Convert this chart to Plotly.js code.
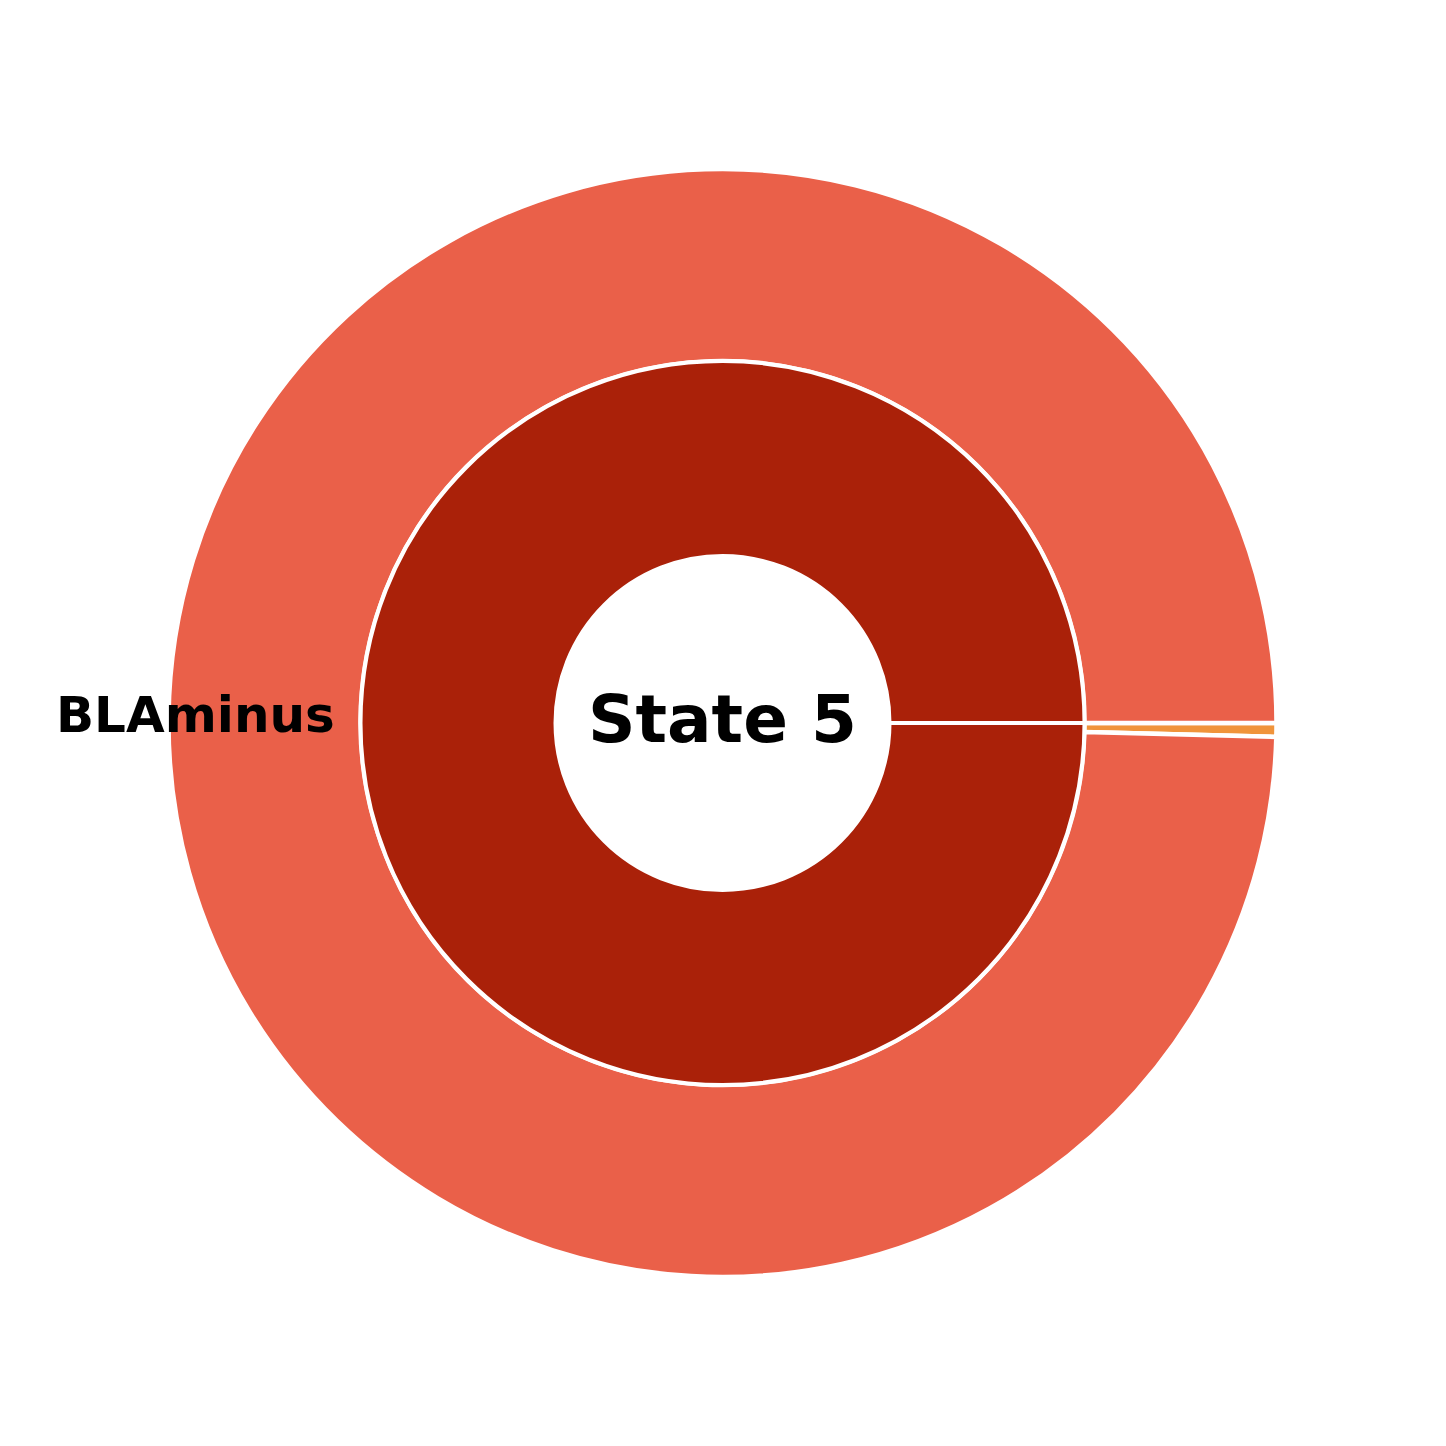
<!DOCTYPE html>
<html>
<head>
<meta charset="utf-8">
<script src="https://cdn.plot.ly/plotly-3.0.1.min.js"></script>
<style>html,body{margin:0;padding:0;background:#fff;}</style>
</head>
<body>
<div id="chart" style="width:1446px;height:1446px;"></div>
<script>
// Data
const innerLabels = ["State 5"];
const innerValues = [250];
const innerColors = ["#AA2109"];
const outerLabels = ["Other", "BLAminus"];
const outerValues = [1, 249];
const outerColors = ["#F0943B", "#EA6049"];
const centerText = "State 5";
const sideLabel = "BLAminus";

// Geometry (pixels)
const W = 1446, H = 1446;
const cx = 722.5, cy = 723;
const rOuter = 554, rMid = 362, rHole = 167;

function dom(r) {
  return { x: [(cx - r) / W, (cx + r) / W], y: [1 - (cy + r) / H, 1 - (cy - r) / H] };
}

const traces = [
  {
    type: "pie",
    labels: outerLabels,
    values: outerValues,
    marker: { colors: outerColors, line: { color: "#ffffff", width: 4.5 } },
    hole: rMid / rOuter,
    domain: dom(rOuter),
    sort: false,
    direction: "counterclockwise",
    rotation: 90,
    textinfo: "none",
    hoverinfo: "none",
    showlegend: false
  },
  {
    type: "pie",
    labels: innerLabels,
    values: innerValues,
    marker: { colors: innerColors, line: { color: "#ffffff", width: 4 } },
    hole: rHole / rMid,
    domain: dom(rMid),
    sort: false,
    direction: "counterclockwise",
    rotation: 90,
    textinfo: "none",
    hoverinfo: "none",
    showlegend: false
  }
];

const layout = {
  width: W,
  height: H,
  margin: { l: 0, r: 0, t: 0, b: 0 },
  paper_bgcolor: "#ffffff",
  plot_bgcolor: "#ffffff",
  showlegend: false,
  shapes: [
    {
      type: "line", xref: "paper", yref: "paper",
      x0: (cx + rHole) / W, x1: (cx + rMid) / W,
      y0: 1 - cy / H, y1: 1 - cy / H,
      line: { color: "#ffffff", width: 4 }
    }
  ],
  annotations: [
    {
      text: "<b>" + centerText + "</b>",
      x: cx / W, y: 1 - 719 / H, xref: "paper", yref: "paper",
      xanchor: "center", yanchor: "middle", showarrow: false,
      font: { family: "DejaVu Sans", size: 66, color: "#000000" }
    },
    {
      text: "<b>" + sideLabel + "</b>",
      x: 195 / W, y: 1 - 715 / H, xref: "paper", yref: "paper",
      xanchor: "center", yanchor: "middle", showarrow: false,
      font: { family: "DejaVu Sans", size: 50, color: "#000000" }
    }
  ]
};

Plotly.newPlot("chart", traces, layout, { staticPlot: true });
</script>
</body>
</html>
